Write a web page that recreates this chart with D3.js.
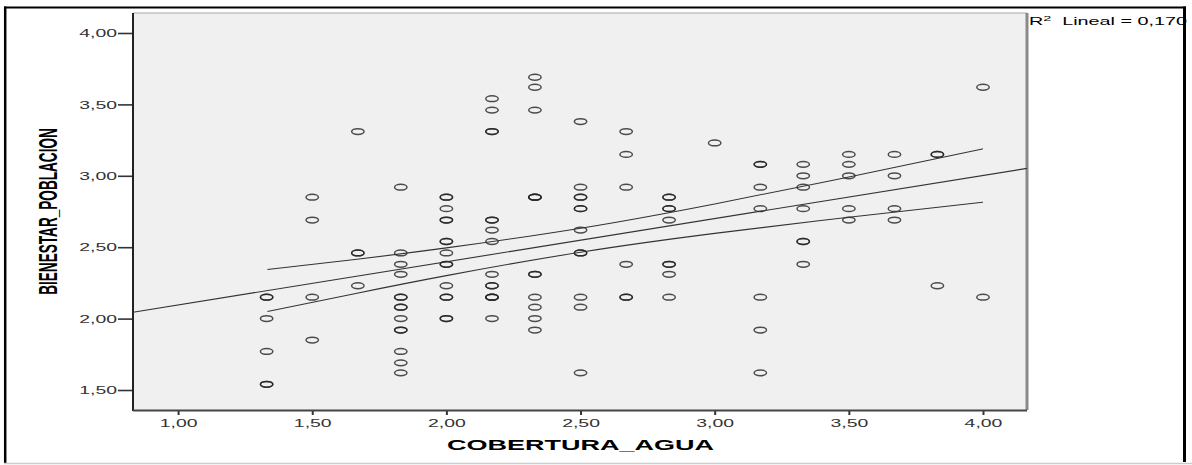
<!DOCTYPE html>
<html>
<head>
<meta charset="utf-8">
<script src="https://cdn.jsdelivr.net/npm/d3@7"></script>
<style>
  body { margin: 0; background: #fff; }
  svg { display: block; font-family: "Liberation Sans", Arial, sans-serif; }
</style>
</head>
<body>
<svg id="chart" width="1192" height="465"></svg>
<script>
// x levels (COBERTURA_AGUA) and the BIENESTAR_POBLACION values seen in each column
const coberturaAgua = [1.33, 1.50, 1.67, 1.83, 2.00, 2.17, 2.33, 2.50, 2.67, 2.83, 3.00, 3.17, 3.33, 3.50, 3.67, 3.83, 4.00];
const bienestarPoblacion = [
  [2.15, 2.15, 2.00, 1.77, 1.54, 1.54],
  [2.85, 2.69, 2.15, 1.85],
  [3.31, 2.46, 2.46, 2.23],
  [2.92, 2.46, 2.38, 2.31, 2.15, 2.15, 2.08, 2.08, 2.00, 1.92, 1.92, 1.77, 1.69, 1.62],
  [2.85, 2.85, 2.77, 2.69, 2.69, 2.54, 2.54, 2.46, 2.38, 2.38, 2.23, 2.15, 2.15, 2.00, 2.00],
  [3.54, 3.46, 3.31, 3.31, 2.69, 2.69, 2.62, 2.54, 2.31, 2.23, 2.23, 2.15, 2.15, 2.15, 2.00],
  [3.69, 3.62, 3.46, 2.85, 2.85, 2.85, 2.31, 2.31, 2.15, 2.08, 2.00, 1.92],
  [3.38, 2.92, 2.85, 2.85, 2.77, 2.77, 2.62, 2.46, 2.46, 2.15, 2.08, 1.62],
  [3.31, 3.15, 2.92, 2.38, 2.15, 2.15],
  [2.85, 2.85, 2.77, 2.77, 2.69, 2.38, 2.38, 2.31, 2.15],
  [3.23],
  [3.08, 3.08, 2.92, 2.77, 2.15, 1.92, 1.62],
  [3.08, 3.00, 2.92, 2.77, 2.54, 2.54, 2.38],
  [3.15, 3.08, 3.00, 2.77, 2.69],
  [3.15, 3.00, 2.77, 2.69],
  [3.15, 3.15, 2.23],
  [3.62, 2.15]
];

// linear fit, read at the two edges of the plot
const fitX = [0.832, 4.164];
const fitY = [2.045, 3.052];

// mean confidence band, read at a few x positions
const ciX = [1.333, 1.667, 2.0, 2.5, 3.0, 3.5, 4.0];
const ciUpper = [2.344, 2.416, 2.495, 2.633, 2.803, 2.992, 3.189];
const ciLower = [2.050, 2.178, 2.301, 2.465, 2.597, 2.710, 2.815];

const xTicks = [1.0, 1.5, 2.0, 2.5, 3.0, 3.5, 4.0];
const yTicks = [1.5, 2.0, 2.5, 3.0, 3.5, 4.0];
const r2Label = "0,170";

const svg = d3.select("#chart");
const plotLeft = 133, plotRight = 1027, plotTop = 13, plotBottom = 410;
const sx = 1.85; // the original picture is stretched sideways

const x = d3.scaleLinear().domain([0.832, 4.164]).range([plotLeft, plotRight]);
const y = d3.scaleLinear().domain([1.36, 4.14]).range([plotBottom, plotTop]);
const fmt = d => d3.format(".2f")(d).replace(".", ",");

// outer frame
svg.append("line").attr("x1", 4).attr("x2", 1186).attr("y1", 7.5).attr("y2", 7.5).attr("stroke", "#000").attr("stroke-width", 2);
svg.append("line").attr("x1", 5.2).attr("x2", 5.2).attr("y1", 6.5).attr("y2", 463).attr("stroke", "#000").attr("stroke-width", 2.5);
svg.append("line").attr("x1", 1184.5).attr("x2", 1184.5).attr("y1", 6.5).attr("y2", 462).attr("stroke", "#000").attr("stroke-width", 3);
svg.append("line").attr("x1", 4).attr("x2", 1192).attr("y1", 463.5).attr("y2", 463.5).attr("stroke", "#ccc").attr("stroke-width", 1.5);

// plot area
svg.append("rect").attr("x", plotLeft).attr("y", plotTop).attr("width", plotRight - plotLeft).attr("height", plotBottom - plotTop).attr("fill", "#f0f0f0");
svg.append("line").attr("x1", plotLeft).attr("x2", plotRight).attr("y1", plotTop).attr("y2", plotTop).attr("stroke", "#a8a8a8").attr("stroke-width", 1.2);
svg.append("line").attr("x1", plotRight).attr("x2", plotRight).attr("y1", plotTop).attr("y2", plotBottom).attr("stroke", "#8a8a8a").attr("stroke-width", 3);

// axes
const gy = svg.append("g").attr("transform", `translate(${plotLeft},0)`)
  .call(d3.axisLeft(y).tickValues(yTicks).tickSize(15).tickFormat(fmt));
gy.select(".domain").remove();
gy.selectAll(".tick line").attr("stroke", "#333").attr("stroke-width", 1.6);
gy.selectAll(".tick text").attr("x", 0).attr("dy", "0.36em")
  .attr("transform", `translate(-16,0) scale(${sx},1)`)
  .attr("font-size", 10.5).attr("fill", "#333");
gy.attr("font-family", null);

const gx = svg.append("g").attr("transform", `translate(0,${plotBottom})`)
  .call(d3.axisBottom(x).tickValues(xTicks).tickSize(5).tickFormat(fmt));
gx.select(".domain").remove();
gx.selectAll(".tick line").attr("stroke", "#333").attr("stroke-width", 2);
gx.selectAll(".tick text").attr("y", 0).attr("dy", 0)
  .attr("transform", `translate(0,17) scale(${sx},1)`)
  .attr("font-size", 10.5).attr("fill", "#333");
gx.attr("font-family", null);

svg.append("line").attr("x1", plotLeft).attr("x2", plotLeft).attr("y1", plotTop).attr("y2", plotBottom + 1).attr("stroke", "#222").attr("stroke-width", 2);
svg.append("line").attr("x1", plotLeft).attr("x2", plotRight).attr("y1", plotBottom + 0.5).attr("y2", plotBottom + 0.5).attr("stroke", "#444").attr("stroke-width", 2);

// points
const points = coberturaAgua.flatMap((cx, i) => bienestarPoblacion[i].map(v => ({ cx, v })));
svg.append("g").selectAll("ellipse")
  .data(points)
  .join("ellipse")
  .attr("cx", d => x(d.cx))
  .attr("cy", d => y(d.v))
  .attr("rx", 6.2)
  .attr("ry", 2.9)
  .attr("fill", "none")
  .attr("stroke", "#222")
  .attr("stroke-opacity", 0.8)
  .attr("stroke-width", 1.5);

// fit line and confidence band
const line = d3.line().x(d => x(d[0])).y(d => y(d[1]));
const bandLine = d3.line().x(d => x(d[0])).y(d => y(d[1])).curve(d3.curveNatural);
svg.append("path").attr("d", line(d3.zip(fitX, fitY))).attr("fill", "none").attr("stroke", "#333").attr("stroke-width", 1.1);
[ciUpper, ciLower].forEach(vals => {
  svg.append("path").attr("d", bandLine(d3.zip(ciX, vals))).attr("fill", "none").attr("stroke", "#333").attr("stroke-width", 1.1);
});

// titles
svg.append("text")
  .attr("transform", `translate(${x(2.5)},450) scale(1.93,1)`)
  .attr("text-anchor", "middle").attr("font-size", 14).attr("font-weight", "bold").attr("fill", "#000")
  .text("COBERTURA_AGUA");

svg.append("text")
  .attr("transform", `translate(57,211.5) rotate(-90) scale(1,${sx})`)
  .attr("text-anchor", "middle").attr("font-size", 13.6).attr("font-weight", "bold").attr("fill", "#000")
  .text("BIENESTAR_POBLACION");

// R² label
const r2 = svg.append("text")
  .attr("transform", `translate(1029,25) scale(1.8,1)`)
  .attr("font-size", 11).attr("fill", "#000");
r2.append("tspan").text("R");
r2.append("tspan").attr("font-size", 8).attr("dy", -4).text("2");
r2.append("tspan").attr("dy", 4).attr("dx", 3).text(" Lineal = " + r2Label);
</script>
</body>
</html>
